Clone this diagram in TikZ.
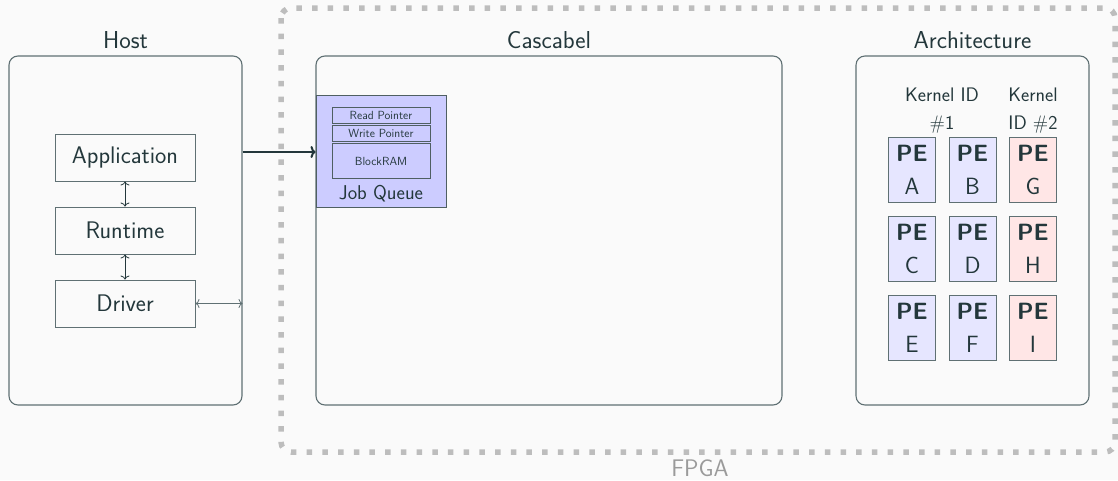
\documentclass[tikz,border=0pt]{standalone}
\renewcommand{\familydefault}{\sfdefault}
\usetikzlibrary{arrows.meta}

\definecolor{fg}{HTML}{23373B}
\definecolor{edge}{HTML}{5F7073}
\definecolor{bgc}{HTML}{FAFAFA}
\definecolor{fpgadash}{HTML}{BDBDBD}
\definecolor{fpgatext}{HTML}{9A9A9A}
\definecolor{queuefill}{HTML}{CCCCFF}
\definecolor{peblue}{HTML}{E6E6FF}
\definecolor{pered}{HTML}{FFE6E6}

\begin{document}
\begin{tikzpicture}[x=1pt,y=-1pt,
  every node/.style={text=fg, inner sep=0pt},
  group/.style={draw=edge, line width=1.1pt, rounded corners=9pt,
    minimum width=233pt, minimum height=349pt},
  grouptitle/.style={font=\fontsize{24.5}{29}\selectfont},
  layer/.style={draw=edge, line width=1pt, minimum width=140pt,
    minimum height=47pt, font=\fontsize{24}{29}\selectfont},
  queue/.style={draw=fg!80, line width=1pt, fill=queuefill,
    minimum width=130pt, minimum height=112pt},
  field/.style={draw=fg!80, line width=1pt, minimum width=98pt,
    font=\fontsize{11.8}{14}\selectfont},
  pe/.style={draw=edge, line width=1pt, minimum width=47pt, minimum height=65pt,
    align=center, font=\fontsize{23.5}{33}\selectfont},
  kernel/.style={align=center, font=\fontsize{19.6}{28}\selectfont},
  link/.style={draw=edge, line width=0.8pt,
    {To[length=4pt,width=9pt]}-{To[length=4pt,width=9pt]}},
  feed/.style={draw=fg, line width=2pt, -{To[length=5pt,width=12pt]}}
]
\useasboundingbox[fill=bgc] (0,0) rectangle (1118,480);

% FPGA region
\draw[fpgadash, line width=5.5pt, dash pattern=on 5.5pt off 10.2pt, rounded corners=10pt]
  (281,8) rectangle (1115,452);
\node[text=fpgatext, font=\fontsize{24}{29}\selectfont] (fpga) at (700,468.5) {FPGA};

% Host side
\node[group] (host) at (125.5,230.5) {};
\node[grouptitle] (hostT) at (125.5,40) {Host};
\node[layer] (app) at (125,157.5) {Application};
\node[layer] (rt) at (125,230.5) {Runtime};
\node[layer] (drv) at (125,303.5) {Driver};
\draw[link, draw=fg] (app) -- (rt);
\draw[link, draw=fg] (rt) -- (drv);
\coordinate (drvEnd) at (host.east |- drv.east);
\draw[link] (drv.east) -- (drvEnd);

% Cascabel
\node[group, minimum width=466pt] (casc) at (549,230.5) {};
\node[grouptitle] (cascT) at (549,40) {Cascabel};
\node[queue] (jq) at (381,151.5) {};
\node[field, minimum height=16pt] (rp) at (381,115) {Read Pointer};
\node[field, minimum height=16pt] (wp) at (381,133.5) {Write Pointer};
\node[field, minimum height=35pt] (bram) at (381,161) {BlockRAM};
\node[font=\fontsize{20}{24}\selectfont] (jqT) at (381,194) {Job Queue};
\coordinate (feedStart) at (host.east |- 0,152);
\draw[feed] (feedStart) -- (feedStart -| jq.west);

% Architecture
\node[group] (arch) at (972.5,230.5) {};
\node[grouptitle] (archT) at (972.5,40) {Architecture};
\node[kernel] (k1) at (942,111) {Kernel ID\\\#1};
\node[kernel] (k2) at (1033,111) {Kernel\\ID \#2};
\node[pe, fill=peblue] (peA) at (912,170) {\textbf{PE}\\A};
\node[pe, fill=peblue] (peB) at (972.5,170) {\textbf{PE}\\B};
\node[pe, fill=pered]  (peG) at (1033,170) {\textbf{PE}\\G};
\node[pe, fill=peblue] (peC) at (912,248.5) {\textbf{PE}\\C};
\node[pe, fill=peblue] (peD) at (972.5,248.5) {\textbf{PE}\\D};
\node[pe, fill=pered]  (peH) at (1033,248.5) {\textbf{PE}\\H};
\node[pe, fill=peblue] (peE) at (912,327.5) {\textbf{PE}\\E};
\node[pe, fill=peblue] (peF) at (972.5,327.5) {\textbf{PE}\\F};
\node[pe, fill=pered]  (peI) at (1033,327.5) {\textbf{PE}\\I};
\end{tikzpicture}
\end{document}
